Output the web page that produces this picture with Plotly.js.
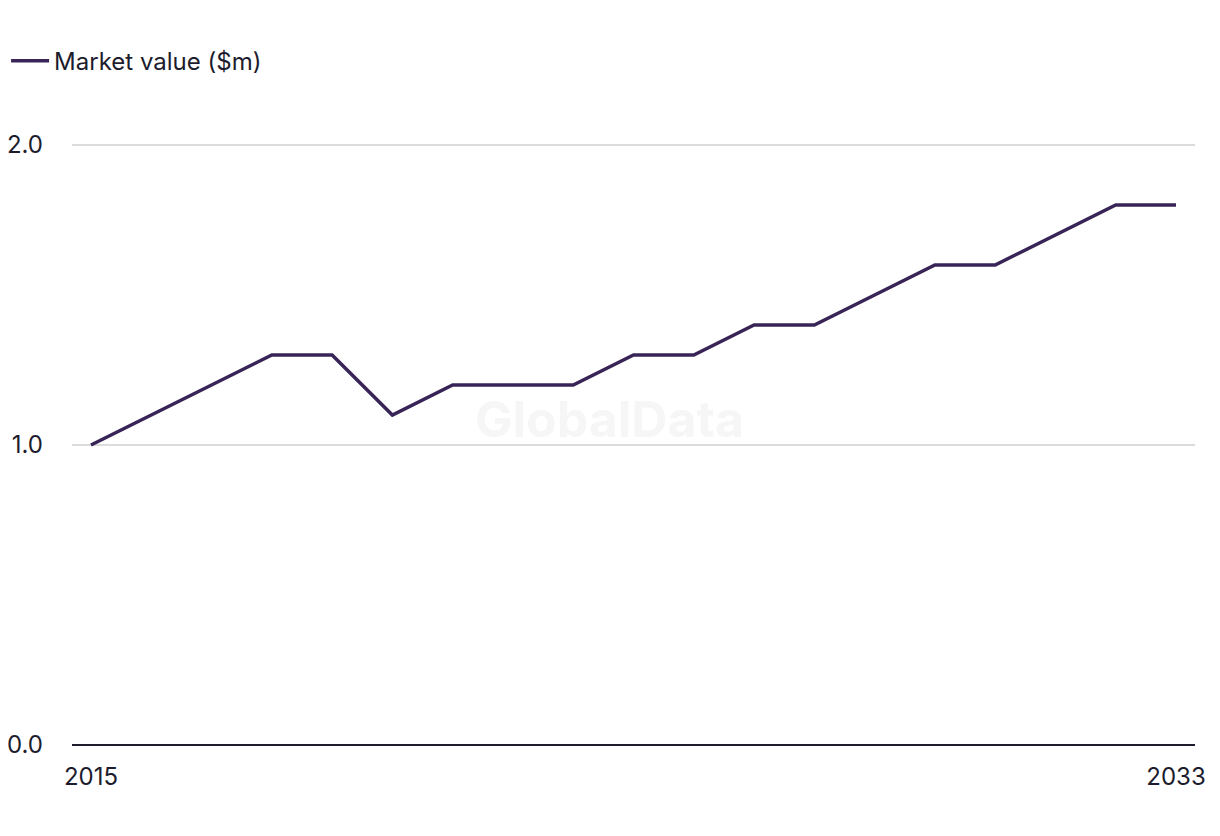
<!DOCTYPE html>
<html>
<head>
<meta charset="utf-8">
<script src="https://cdn.plot.ly/plotly-3.0.1.min.js"></script>
<style>html,body{margin:0;padding:0;background:#fff;}#chart{width:1220px;height:836px;}</style>
</head>
<body>
<div id="chart"></div>
<script>
const years = [2015,2016,2017,2018,2019,2020,2021,2022,2023,2024,2025,2026,2027,2028,2029,2030,2031,2032,2033];
const marketValue = [1.0,1.1,1.2,1.3,1.3,1.1,1.2,1.2,1.2,1.3,1.3,1.4,1.4,1.5,1.6,1.6,1.7,1.8,1.8];
const seriesName = 'Market value ($m)';
const xTicks = [2015, 2033];
const yTicks = [0, 1, 2];
const yTickLabels = ['0.0', '1.0', '2.0'];

const font = 'Inter, "Liberation Sans", sans-serif';
const data = [{
  x: years, y: marketValue, type: 'scatter', mode: 'lines', name: seriesName,
  line: {color: '#382456', width: 3.5}
}];
const layout = {
  width: 1220, height: 836,
  margin: {l: 72, r: 25, t: 139, b: 91, autoexpand: false},
  paper_bgcolor: '#fff', plot_bgcolor: '#fff',
  font: {family: font, color: '#1c1c2c', size: 24},
  showlegend: true,
  legend: {xref: 'container', yref: 'container', x: 0.005, xanchor: 'left', y: 0.927, yanchor: 'middle', orientation: 'h', itemwidth: 38, font: {size: 24, color: '#1c1c2c'}},
  xaxis: {range: [2014.685, 2033.315], tickvals: xTicks, ticktext: xTicks.map(String), showgrid: false, zeroline: false, showline: false, ticks: '', ticklabelstandoff: 15, automargin: false, fixedrange: true},
  yaxis: {range: [0, 2.02], tickvals: yTicks, ticktext: yTickLabels, showgrid: true, gridcolor: '#dcdcdc', gridwidth: 2, zeroline: true, zerolinecolor: '#1c1c2c', zerolinewidth: 2, showline: false, ticks: '', ticklabelstandoff: 28, automargin: false, fixedrange: true},
  annotations: [{text: '<b>GlobalData</b>', x: 0.479, y: 0.538, xref: 'paper', yref: 'paper', showarrow: false, font: {size: 50, color: '#f6f6f6', family: font}}]
};
Plotly.newPlot('chart', data, layout, {displayModeBar: false, staticPlot: true});
</script>
</body>
</html>
